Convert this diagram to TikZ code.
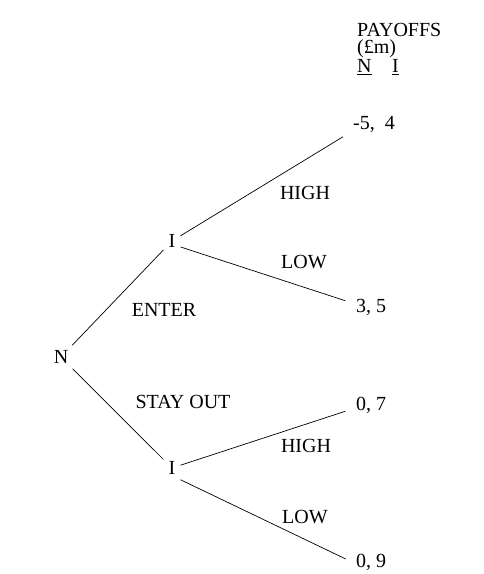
\documentclass[tikz,border=0pt]{standalone}
\usepackage{fontspec}
\setmainfont{Liberation Serif}
\begin{document}
\begin{tikzpicture}[x=1pt, y=1pt, every node/.style={font=\fontsize{20}{22}\selectfont, inner sep=5pt},
    pay/.style={anchor=west, inner sep=4pt}, head/.style={anchor=base west, inner sep=0pt},
    branch/.style={line width=0.7pt, shorten >=7pt}]
    \useasboundingbox (0,0) rectangle (483,574);
    % Decision nodes
    \node (n) at (61,217) {N};
    \node (ihi) at (172,333) {I};
    \node (ilo) at (172,106) {I};
    
    % Payoffs
    \node[pay] (p1) at (349,450) {-5,\ \ 4};
    \node[pay] (p2) at (352,267) {3, 5};
    \node[pay] (p3) at (352,169) {0, 7};
    \node[pay] (p4) at (352,12) {0, 9};
    \node[head] (hd) at (357,537) {PAYOFFS};
    \node[head] (un) at (357,520) {(£m)};
    \node[head] (nn) at (357,501) {\underline{N}};
    \node[head] (ii) at (392,501) {\underline{I}};
    
    % Branches
    \draw[line width=0.7pt] (n) -- (ihi);
    \draw[line width=0.7pt] (n) -- (ilo);
    \draw[branch] (ihi) -- (p1.200);
    \draw[branch] (ihi.-35) -- (p2.168);
    \draw[branch] (ilo) -- (p3.192);
    \draw[branch] (ilo.south east) -- (p4.west);
    
    % Moves
    \node (enter) at (164,264) {ENTER};
    \node (stay) at (183,172) {STAY OUT};
    \node (h1) at (305,381) {HIGH};
    \node (l1) at (304,312) {LOW};
    \node (h2) at (306,128) {HIGH};
    \node (l2) at (305,57) {LOW};
\end{tikzpicture}
\end{document}
